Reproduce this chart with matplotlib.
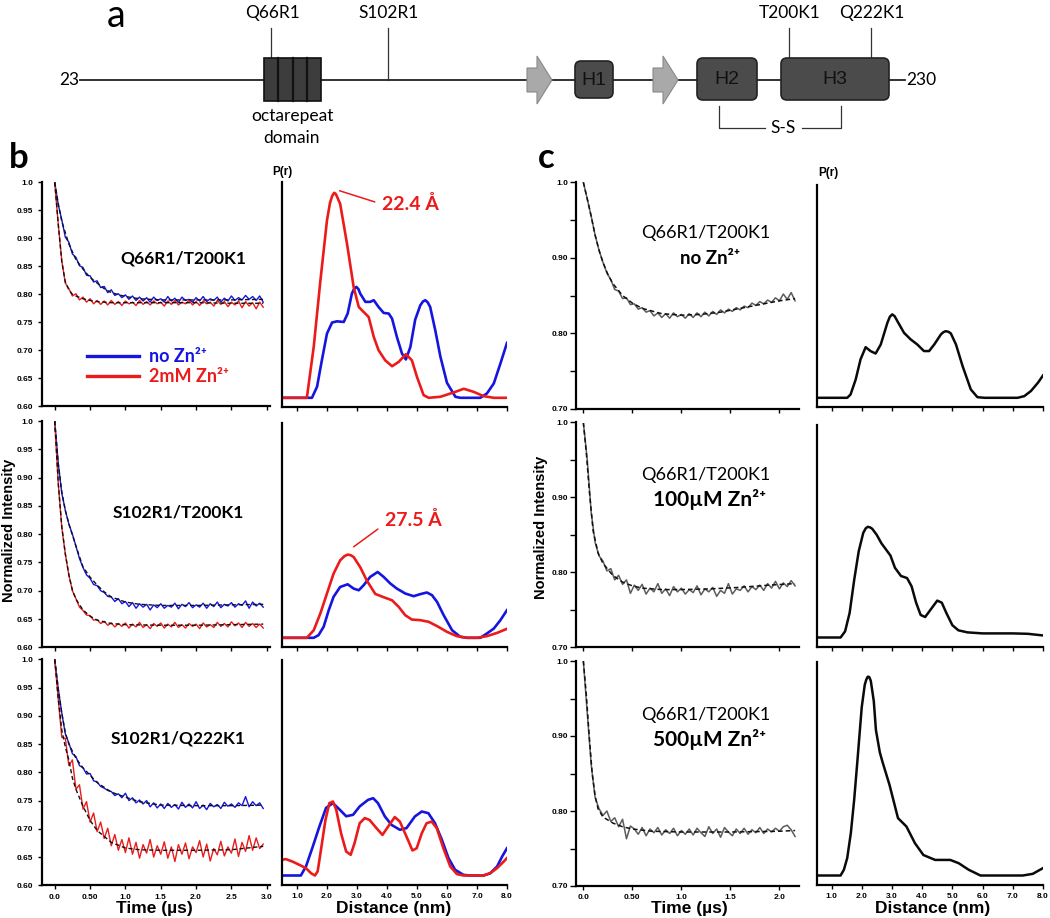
import numpy as np
import matplotlib
matplotlib.use("Agg")
import matplotlib.pyplot as plt
from matplotlib.patches import FancyBboxPatch, Rectangle, Polygon
from matplotlib.lines import Line2D

# ----------------------------------------------------------------- data
# panel b : DEER time traces (time in microseconds)
t_b = np.round(np.arange(0, 2.951, 0.05), 2)
b1_noZn = [1.000,0.960,0.933,0.902,0.893,0.872,0.866,0.851,0.848,0.834,
           0.833,0.822,0.824,0.812,0.814,0.803,0.808,0.798,0.801,0.794,
           0.799,0.791,0.797,0.789,0.795,0.788,0.794,0.786,0.795,0.789,
           0.792,0.786,0.796,0.788,0.793,0.785,0.795,0.789,0.791,0.786,
           0.794,0.788,0.796,0.787,0.792,0.789,0.795,0.786,0.793,0.788,
           0.797,0.789,0.794,0.790,0.798,0.791,0.796,0.789,0.797,0.786]
b1_Zn = [1.000,0.925,0.860,0.820,0.810,0.797,0.801,0.790,0.795,0.786,
         0.792,0.783,0.789,0.782,0.788,0.781,0.789,0.782,0.787,0.780,
         0.788,0.783,0.786,0.780,0.789,0.782,0.787,0.781,0.788,0.783,
         0.786,0.779,0.788,0.782,0.789,0.781,0.786,0.783,0.789,0.781,
         0.787,0.780,0.788,0.783,0.786,0.779,0.789,0.782,0.787,0.778,
         0.786,0.781,0.788,0.776,0.787,0.779,0.785,0.774,0.786,0.777]
b2_noZn = [1.000,0.925,0.872,0.842,0.818,0.800,0.779,0.757,0.741,0.728,
           0.722,0.711,0.709,0.700,0.697,0.690,0.689,0.681,0.686,0.677,
           0.681,0.672,0.679,0.669,0.677,0.671,0.676,0.666,0.675,0.670,
           0.677,0.669,0.674,0.671,0.678,0.668,0.676,0.672,0.679,0.670,
           0.675,0.671,0.678,0.669,0.677,0.672,0.680,0.670,0.676,0.673,
           0.679,0.671,0.677,0.674,0.682,0.669,0.680,0.673,0.678,0.671]
b2_Zn = [1.000,0.890,0.812,0.765,0.728,0.700,0.686,0.671,0.665,0.657,
         0.656,0.648,0.649,0.642,0.646,0.639,0.643,0.636,0.642,0.637,
         0.643,0.634,0.641,0.636,0.644,0.635,0.640,0.633,0.642,0.637,
         0.643,0.634,0.641,0.636,0.644,0.635,0.640,0.634,0.642,0.637,
         0.641,0.633,0.643,0.636,0.640,0.635,0.644,0.637,0.642,0.636,
         0.645,0.638,0.643,0.635,0.644,0.637,0.642,0.635,0.641,0.634]
b3_noZn = [1.000,0.948,0.905,0.868,0.852,0.833,0.828,0.812,0.808,0.797,
           0.798,0.785,0.783,0.775,0.772,0.768,0.766,0.759,0.762,0.755,
           0.763,0.750,0.755,0.746,0.751,0.744,0.750,0.739,0.746,0.737,
           0.744,0.736,0.745,0.738,0.743,0.735,0.747,0.738,0.744,0.737,
           0.748,0.736,0.742,0.734,0.745,0.739,0.743,0.736,0.747,0.740,
           0.744,0.738,0.746,0.741,0.757,0.739,0.748,0.741,0.746,0.736]
b3_Zn = [1.000,0.930,0.862,0.860,0.812,0.822,0.770,0.778,0.735,0.748,
         0.712,0.728,0.695,0.712,0.683,0.701,0.670,0.690,0.662,0.681,
         0.658,0.684,0.655,0.676,0.648,0.672,0.657,0.681,0.650,0.670,
         0.655,0.677,0.648,0.668,0.642,0.672,0.655,0.675,0.647,0.668,
         0.658,0.679,0.650,0.673,0.643,0.665,0.654,0.678,0.652,0.668,
         0.657,0.682,0.651,0.676,0.660,0.688,0.662,0.684,0.665,0.673]

# fits (black dashed)
fb1_noZn_t = [0,0.05,0.1,0.2,0.3,0.4,0.5,0.6,0.7,0.8,1.0,1.2,1.5,2.0,2.5,2.95]
fb1_noZn_v = [1.0,0.962,0.93,0.89,0.862,0.845,0.83,0.82,0.81,0.803,0.796,0.792,0.79,0.79,0.79,0.791]
fb1_Zn_t = [0,0.05,0.1,0.15,0.2,0.25,0.3,0.4,0.5,0.6,0.8,1.0,1.5,2.0,2.5,2.95]
fb1_Zn_v = [1.0,0.925,0.858,0.822,0.808,0.8,0.797,0.792,0.789,0.787,0.785,0.785,0.785,0.785,0.784,0.784]
fb2_noZn_t = [0,0.05,0.1,0.15,0.2,0.3,0.4,0.5,0.6,0.7,0.8,1.0,1.2,1.5,2.0,2.5,2.95]
fb2_noZn_v = [1.0,0.925,0.875,0.842,0.818,0.779,0.742,0.724,0.71,0.698,0.689,0.68,0.676,0.674,0.674,0.675,0.676]
fb2_Zn_t = [0,0.05,0.1,0.15,0.2,0.25,0.3,0.4,0.5,0.6,0.8,1.0,1.5,2.0,2.5,2.95]
fb2_Zn_v = [1.0,0.89,0.813,0.765,0.728,0.701,0.685,0.666,0.655,0.648,0.642,0.64,0.639,0.639,0.64,0.641]
fb3_noZn_t = [0,0.05,0.1,0.15,0.2,0.3,0.4,0.5,0.6,0.8,1.0,1.2,1.5,2.0,2.5,2.95]
fb3_noZn_v = [1.0,0.948,0.905,0.87,0.85,0.825,0.808,0.795,0.782,0.765,0.756,0.748,0.742,0.741,0.741,0.742]
fb3_Zn_t = [0,0.05,0.1,0.15,0.2,0.25,0.3,0.4,0.5,0.6,0.8,1.0,1.2,1.5,2.0,2.5,2.95]
fb3_Zn_v = [1.0,0.93,0.875,0.845,0.822,0.79,0.77,0.74,0.715,0.697,0.676,0.666,0.663,0.662,0.662,0.663,0.669]

# panel b : distance distributions P(r), r in nm (arbitrary height units)
rb1_noZn = [0.47,1.5,1.67,1.83,2.0,2.17,2.33,2.56,2.69,2.83,2.9,2.98,3.05,3.11,3.28,3.44,3.56,3.72,3.89,4.06,4.17,4.33,
            4.5,4.63,4.78,4.94,5.11,5.2,5.28,5.36,5.44,5.61,5.78,6.0,6.28,6.44,7.11,7.33,7.56,7.78,8.0]
pb1_noZn = [0,0,0.054,0.183,0.313,0.367,0.373,0.37,0.411,0.508,0.53,0.541,0.53,0.508,0.468,0.468,0.476,0.443,0.414,0.411,0.386,0.297,
            0.216,0.187,0.248,0.381,0.451,0.47,0.476,0.465,0.443,0.329,0.201,0.073,0.005,0,0,0.021,0.07,0.167,0.268]
rb1_Zn = [0.47,1.33,1.56,1.78,2.0,2.1,2.17,2.24,2.29,2.34,2.44,2.67,2.89,3.06,3.22,3.39,3.56,3.72,3.94,4.17,4.39,4.63,
          4.83,5.0,5.22,5.39,5.78,6.22,6.56,6.89,7.22,7.56,8.0]
pb1_Zn = [0,0,0.25,0.57,0.865,0.95,0.983,1.0,0.995,0.98,0.946,0.75,0.54,0.443,0.419,0.394,0.297,0.232,0.183,0.154,0.175,0.213,
          0.183,0.102,0.013,0,0.005,0.026,0.044,0.029,0.008,0,0]
rb2_noZn = [0.47,1.56,1.72,1.89,2.06,2.22,2.44,2.69,2.89,3.06,3.22,3.44,3.69,3.89,4.11,4.33,4.61,4.89,5.11,5.33,
            5.5,5.67,5.89,6.17,6.44,6.67,7.11,7.33,7.56,7.78,8.0]
pb2_noZn = [0,0,0.013,0.054,0.135,0.2,0.248,0.261,0.24,0.232,0.256,0.297,0.321,0.297,0.265,0.24,0.216,0.203,0.213,0.221,
            0.208,0.175,0.11,0.037,0.005,0,0,0.021,0.045,0.086,0.135]
rb2_Zn = [0.47,1.33,1.56,1.78,2.0,2.22,2.44,2.58,2.69,2.79,2.89,3.11,3.33,3.61,3.89,4.17,4.39,4.61,4.83,5.11,5.39,5.67,
          6.0,6.33,6.67,7.0,7.33,7.67,8.0]
pb2_Zn = [0,0,0.037,0.119,0.216,0.313,0.378,0.398,0.406,0.403,0.394,0.344,0.279,0.214,0.198,0.183,0.151,0.11,0.089,0.086,0.078,0.057,
          0.029,0.008,0,0,0.008,0.024,0.044]
rb3_noZn = [0.46,1.13,1.3,1.53,1.75,1.97,2.2,2.42,2.64,2.87,3.09,3.37,3.54,3.7,3.93,4.15,4.43,4.65,4.93,5.16,
            5.38,5.6,5.83,6.05,6.27,6.55,6.78,7.22,7.44,7.67,7.84,8.0]
pb3_noZn = [0,0,0.044,0.142,0.24,0.33,0.353,0.322,0.289,0.296,0.337,0.369,0.377,0.353,0.288,0.247,0.223,0.231,0.288,0.312,
            0.304,0.255,0.174,0.085,0.028,0.003,0,0,0.011,0.044,0.093,0.133]
rb3_Zn = [0.46,0.63,0.85,1.08,1.3,1.47,1.6,1.69,1.8,1.95,2.08,2.2,2.31,2.47,2.64,2.79,2.92,3.09,3.26,3.42,
          3.65,3.85,4.04,4.26,4.43,4.65,4.85,4.99,5.16,5.32,5.49,5.66,5.88,6.11,6.33,6.55,7.22,7.44,7.67,7.89,8.0]
pb3_Zn = [0.076,0.08,0.068,0.052,0.036,0.011,0,0.02,0.125,0.271,0.353,0.361,0.32,0.206,0.117,0.101,0.158,0.255,0.28,0.271,
          0.231,0.198,0.239,0.285,0.263,0.19,0.122,0.133,0.206,0.255,0.263,0.231,0.133,0.044,0.007,0,0,0.011,0.036,0.068,0.085]

# panel c : Zn titration time traces
t_c = np.round(np.arange(0, 2.161, 0.04), 2)
c1_data = [1.000,0.978,0.955,0.930,0.910,0.894,0.880,0.871,0.858,0.856,
           0.846,0.847,0.838,0.839,0.832,0.834,0.828,0.830,0.823,0.827,
           0.821,0.826,0.820,0.827,0.822,0.825,0.820,0.826,0.821,0.827,
           0.822,0.828,0.823,0.829,0.825,0.831,0.827,0.832,0.829,0.834,
           0.831,0.836,0.834,0.840,0.837,0.842,0.839,0.844,0.841,0.847,
           0.843,0.852,0.845,0.854,0.843]
c2_data = [1.000,0.950,0.880,0.840,0.822,0.815,0.802,0.805,0.790,0.796,
           0.784,0.790,0.772,0.783,0.776,0.784,0.771,0.779,0.774,0.785,
           0.772,0.778,0.769,0.781,0.774,0.779,0.771,0.777,0.773,0.782,
           0.770,0.778,0.774,0.780,0.768,0.776,0.772,0.785,0.771,0.778,
           0.776,0.782,0.774,0.781,0.777,0.783,0.776,0.785,0.779,0.788,
           0.778,0.786,0.781,0.789,0.782]
c3_data = [1.000,0.930,0.862,0.818,0.803,0.794,0.800,0.786,0.791,0.779,
           0.789,0.763,0.780,0.776,0.769,0.778,0.767,0.776,0.771,0.778,
           0.768,0.775,0.770,0.777,0.767,0.774,0.769,0.776,0.768,0.777,
           0.771,0.766,0.779,0.770,0.776,0.765,0.778,0.772,0.767,0.776,
           0.770,0.777,0.769,0.775,0.771,0.778,0.770,0.776,0.772,0.777,
           0.773,0.779,0.781,0.775,0.766]
fc1_t = [0,0.04,0.08,0.12,0.16,0.2,0.25,0.3,0.4,0.5,0.6,0.8,1.0,1.2,1.4,1.6,1.8,2.0,2.16]
fc1_v = [1.0,0.978,0.955,0.93,0.91,0.894,0.878,0.866,0.85,0.84,0.833,0.826,0.824,0.825,0.828,0.833,0.838,0.843,0.846]
fc2_t = [0,0.03,0.06,0.1,0.15,0.2,0.3,0.4,0.5,0.6,0.8,1.0,1.3,1.6,1.9,2.16]
fc2_v = [1.0,0.96,0.91,0.855,0.826,0.812,0.796,0.787,0.782,0.779,0.777,0.777,0.778,0.78,0.783,0.785]
fc3_t = [0,0.03,0.06,0.09,0.12,0.15,0.2,0.3,0.4,0.5,0.7,1.0,1.5,2.0,2.16]
fc3_v = [1.0,0.955,0.9,0.85,0.82,0.803,0.792,0.784,0.779,0.776,0.773,0.772,0.772,0.773,0.774]

rc1 = [0.5,1.52,1.63,1.8,1.96,2.13,2.29,2.46,2.63,2.85,2.93,3.01,3.09,3.18,3.4,3.62,3.84,4.06,4.23,4.4,4.62,4.7,4.78,4.87,
       4.95,5.12,5.34,5.61,5.83,6.06,7.16,7.38,7.6,7.83,8.0]
pc1 = [0,0,0.016,0.089,0.187,0.247,0.228,0.216,0.26,0.366,0.395,0.407,0.398,0.374,0.317,0.285,0.26,0.228,0.228,0.26,0.309,0.32,0.325,0.322,
       0.314,0.26,0.154,0.041,0.003,0,0,0.008,0.033,0.073,0.109]
rc2 = [0.5,1.3,1.45,1.6,1.75,1.9,2.05,2.13,2.2,2.28,2.35,2.5,2.65,2.8,2.95,3.1,3.3,3.5,3.65,3.8,3.95,4.1,
       4.3,4.5,4.65,4.8,5.0,5.2,5.5,6.0,7.0,7.5,8.0]
pc2 = [0,0,0.03,0.12,0.28,0.42,0.51,0.532,0.54,0.537,0.53,0.5,0.46,0.43,0.4,0.34,0.3,0.29,0.25,0.17,0.11,0.1,
       0.14,0.18,0.17,0.12,0.06,0.035,0.025,0.02,0.02,0.018,0.01]
rc3 = [0.5,1.3,1.41,1.52,1.64,1.75,1.86,2.0,2.1,2.15,2.2,2.25,2.3,2.4,2.47,2.6,2.7,2.92,3.2,3.48,3.76,4.04,
       4.43,4.93,5.21,5.54,5.93,7.33,7.66,8.0]
pc3 = [0,0,0.028,0.085,0.207,0.369,0.564,0.82,0.93,0.955,0.97,0.968,0.95,0.85,0.71,0.6,0.548,0.442,0.28,0.239,0.158,0.1,
       0.076,0.076,0.06,0.028,0,0,0.008,0.036]

b_labels = ["Q66R1/T200K1", "S102R1/T200K1", "S102R1/Q222K1"]
c_conc = ["no Zn²⁺", "100µM Zn²⁺", "500µM Zn²⁺"]
series_names = ["no Zn²⁺", "2mM Zn²⁺"]
peak_notes = ["22.4 Å", "27.5 Å"]

# ----------------------------------------------------------------- style
W, H = 1050, 918
BLUE = "#1515e0"
RED = "#ec1b1b"
GREY = "#5c5c5c"
ARIAL = "Liberation Sans"
CAL = ["Lato", "DejaVu Sans"]

fig = plt.figure(figsize=(W / 100, H / 100), dpi=100)


def add_ax(l, t, r, b):
    return fig.add_axes([l / W, 1 - b / H, (r - l) / W, (b - t) / H])


def ftext(x, y, s, **kw):
    kw.setdefault("ha", "center")
    kw.setdefault("va", "center")
    return fig.text(x / W, 1 - y / H, s, **kw)


def base_style(ax, ylen=3, ypad=3.5):
    for s in ["top", "right"]:
        ax.spines[s].set_visible(False)
    for s in ["left", "bottom"]:
        ax.spines[s].set_linewidth(1.6)
    ax.tick_params(axis="x", direction="out", length=3, width=1, pad=3)
    ax.tick_params(axis="y", which="both", direction="out", length=ylen, width=1, pad=ypad)
    ax.patch.set_alpha(0)


def set_ticks(ax, axis, vals, labels, show):
    if axis == "x":
        ax.set_xticks(vals)
        ax.set_xticklabels(labels if show else [])
        lbls = ax.get_xticklabels()
    else:
        ax.set_yticks(vals)
        ax.set_yticklabels(labels if show else [])
        lbls = ax.get_yticklabels()
    for t in lbls:
        t.set_fontfamily(ARIAL)
        t.set_fontweight("bold")
        t.set_fontsize(6)


# ------------------------------------------------------ panel a (schematic)
axa = fig.add_axes([0, 1 - 150 / H, 1, 150 / H])
axa.set_xlim(0, W)
axa.set_ylim(150, 0)
axa.axis("off")
axa.plot([80, 905], [80, 80], color="#222222", lw=1.3, zorder=1)
axa.add_patch(Rectangle((264, 58), 57, 43, fc="#3d3d3d", ec="#111111", lw=1.2, zorder=3))
for xv in [278.25, 292.5, 306.75]:
    axa.plot([xv, xv], [58, 101], color="#111111", lw=1.6, zorder=4)
for x0 in [527, 653]:
    axa.add_patch(Polygon([(x0, 68), (x0 + 10, 68), (x0 + 10, 56), (x0 + 25, 80),
                           (x0 + 10, 104), (x0 + 10, 92), (x0, 92)],
                          closed=True, fc="#a9a9a9", ec="#8a8a8a", lw=0.8, zorder=3))
for (x0, x1, y0, y1, name) in [(575, 613, 61, 98, "H1"), (697, 757, 58, 100, "H2"),
                               (781, 889, 58, 100, "H3")]:
    axa.add_patch(FancyBboxPatch((x0, y0), x1 - x0, y1 - y0,
                                 boxstyle="round,pad=0,rounding_size=6",
                                 fc="#4b4b4b", ec="#222222", lw=1.2, zorder=3))
    axa.text((x0 + x1) / 2, (y0 + y1) / 2 + 1, name, ha="center", va="center",
             fontsize=14, family=ARIAL, color="#111111", zorder=5)
for (xl, yend, name) in [(271, 58, "Q66R1"), (388, 80, "S102R1"),
                         (789, 58, "T200K1"), (871, 58, "Q222K1")]:
    axa.plot([xl, xl], [28, yend], color="#333333", lw=0.9, zorder=2)
    axa.text(xl + 1, 13, name, ha="center", va="center", fontsize=12.5, family=CAL)
axa.plot([719, 719, 765], [106, 128, 128], color="#333333", lw=0.9)
axa.plot([802, 841, 841], [128, 128, 106], color="#333333", lw=0.9)
axa.text(783, 128, "S-S", ha="center", va="center", fontsize=12.5, family=CAL)
axa.text(292, 116, "octarepeat", ha="center", va="center", fontsize=12.5, family=CAL)
axa.text(292, 138, "domain", ha="center", va="center", fontsize=12.5, family=CAL)
axa.text(79, 80, "23", ha="right", va="center", fontsize=12.5, family=CAL)
axa.text(906, 80, "230", ha="left", va="center", fontsize=12.5, family=CAL)
axa.text(116, 16, "a", ha="center", va="center", fontsize=27, family=CAL)

# ----------------------------------------------------------------- panel b
bL_pos = [(42, 182.3, 270.3, 406.3), (42, 421, 270.3, 647.3), (42, 659.4, 270.3, 885.3)]
bR_pos = [(281.5, 181.7, 507, 407.3), (281.5, 422.7, 507, 647.3), (281.5, 660, 507, 885)]
cL_pos = [(576, 182.3, 799, 408.8), (576, 422.5, 799, 647.3), (576, 661, 799, 886)]
cR_pos = [(817, 185, 1043, 407.3), (817, 425, 1043, 647), (817, 662, 1043, 885)]
PX_PER_UNIT = 205.0
BASE_OFF = 9.5

b_traces = [(b1_noZn, b1_Zn, fb1_noZn_t, fb1_noZn_v, fb1_Zn_t, fb1_Zn_v),
            (b2_noZn, b2_Zn, fb2_noZn_t, fb2_noZn_v, fb2_Zn_t, fb2_Zn_v),
            (b3_noZn, b3_Zn, fb3_noZn_t, fb3_noZn_v, fb3_Zn_t, fb3_Zn_v)]
b_dists = [(rb1_noZn, pb1_noZn, rb1_Zn, pb1_Zn),
           (rb2_noZn, pb2_noZn, rb2_Zn, pb2_Zn),
           (rb3_noZn, pb3_noZn, rb3_Zn, pb3_Zn)]

yt_b = [0.60, 0.65, 0.70, 0.75, 0.80, 0.85, 0.90, 0.95, 1.0]
yl_b = ["0.60", "0.65", "0.70", "0.75", "0.80", "0.85", "0.90", "0.95", "1.0"]
xt_b = [0, 0.5, 1.0, 1.5, 2.0, 2.5, 3.0]
xl_b = ["0.0", "0.50", "1.0", "1.5", "2.0", "2.5", "3.0"]
xt_r = [1, 2, 3, 4, 5, 6, 7, 8]
xl_r = ["1.0", "2.0", "3.0", "4.0", "5.0", "6.0", "7.0", "8.0"]

for i in range(3):
    nz, zn, fnt, fnv, fzt, fzv = b_traces[i]
    ax = add_ax(*bL_pos[i])
    base_style(ax)
    ax.plot(t_b, nz, color=BLUE, lw=1.0, zorder=2)
    ax.plot(t_b, zn, color=RED, lw=1.0, zorder=2)
    ax.plot(fnt, fnv, color="#111111", lw=1.0, ls=(0, (3, 2)), zorder=3)
    ax.plot(fzt, fzv, color="#111111", lw=1.0, ls=(0, (3, 2)), zorder=3)
    ax.set_xlim(-0.18, 3.05)
    ax.set_ylim(0.60, 1.0)
    set_ticks(ax, "y", yt_b, yl_b, True)
    set_ticks(ax, "x", xt_b, xl_b, i == 2)
    if i == 0:
        hs = [Line2D([], [], color=BLUE, lw=2.4), Line2D([], [], color=RED, lw=2.4)]
        leg = ax.legend(hs, series_names, loc="lower left", bbox_to_anchor=(0.197, 0.095),
                        frameon=False, borderpad=0, borderaxespad=0, handlelength=2.9,
                        handletextpad=0.55, labelspacing=0.15,
                        prop=dict(family=CAL, weight="bold", size=13))
        for txt, col in zip(leg.get_texts(), [BLUE, RED]):
            txt.set_color(col)

    rn, pn, rz, pz = b_dists[i]
    axr = add_ax(*bR_pos[i])
    base_style(axr)
    axr.plot(rn, pn, color=BLUE, lw=1.9, solid_joinstyle="round")
    axr.plot(rz, pz, color=RED, lw=1.9, solid_joinstyle="round")
    hpx = bR_pos[i][3] - bR_pos[i][1]
    axr.set_ylim(-BASE_OFF / PX_PER_UNIT, (hpx - BASE_OFF) / PX_PER_UNIT)
    axr.set_xlim(0.485, 8.0)
    axr.set_yticks([])
    set_ticks(axr, "x", xt_r, xl_r, i == 2)
    if i == 0:
        axr.annotate(peak_notes[0], xy=(2.42, 1.01), xytext=(3.82, 0.945),
                     color=RED, fontsize=14, fontweight="bold", family=CAL,
                     ha="left", va="center",
                     arrowprops=dict(arrowstyle="-", color=RED, lw=1.1,
                                     shrinkA=3, shrinkB=0, relpos=(0, 0.5)))
    if i == 1:
        axr.annotate(peak_notes[1], xy=(2.89, 0.444), xytext=(3.94, 0.574),
                     color=RED, fontsize=14, fontweight="bold", family=CAL,
                     ha="left", va="center",
                     arrowprops=dict(arrowstyle="-", color=RED, lw=1.1,
                                     shrinkA=4, shrinkB=0, relpos=(0, 0.3)))

    ftext(183 if i == 0 else 178, [259, 512, 738][i], b_labels[i],
          fontsize=12.5, fontweight="bold", family=CAL)

# ----------------------------------------------------------------- panel c
c_traces = [(c1_data, fc1_t, fc1_v), (c2_data, fc2_t, fc2_v), (c3_data, fc3_t, fc3_v)]
c_dists = [(rc1, pc1), (rc2, pc2), (rc3, pc3)]
xt_c = [0, 0.5, 1.0, 1.5, 2.0]
xl_c = ["0.0", "0.50", "1.0", "1.5", "2.0"]

for i in range(3):
    dat, ft, fv = c_traces[i]
    ax = add_ax(*cL_pos[i])
    base_style(ax, ylen=4, ypad=1.5)
    ax.plot(t_c, dat, color=GREY, lw=1.1, zorder=2)
    ax.plot(ft, fv, color="#111111", lw=1.1, ls=(0, (3, 2)), zorder=3)
    ax.set_xlim(-0.075, 2.2)
    ax.set_ylim(0.70, 1.0)
    set_ticks(ax, "y", [0.70, 0.80, 0.90, 1.0], ["0.70", "0.80", "0.90", "1.0"], True)
    ax.set_yticks([0.75, 0.85, 0.95], minor=True)
    set_ticks(ax, "x", xt_c, xl_c, i == 2)

    rr, pp = c_dists[i]
    axr = add_ax(*cR_pos[i])
    base_style(axr)
    axr.plot(rr, pp, color="#0a0a0a", lw=1.8, solid_joinstyle="round")
    hpx = cR_pos[i][3] - cR_pos[i][1]
    axr.set_ylim(-BASE_OFF / PX_PER_UNIT, (hpx - BASE_OFF) / PX_PER_UNIT)
    axr.set_xlim(0.52, 8.0)
    axr.set_yticks([])
    set_ticks(axr, "x", xt_r, xl_r, i == 2)

    y0 = [233, 475, 715][i]
    ftext(706, y0, "Q66R1/T200K1", fontsize=13, family=CAL)
    ftext(710, y0 + 25, c_conc[i], fontsize=13.5 if i == 0 else 15, fontweight="bold", family=CAL)

# --------------------------------------------------------- shared labels
ftext(282, 172, "P(r)", fontsize=8.5, fontweight="bold", family=ARIAL)
ftext(828, 173, "P(r)", fontsize=8.5, fontweight="bold", family=ARIAL)
ftext(9, 530, "Normalized Intensity", rotation=90, fontsize=10.5, fontweight="bold", family=ARIAL)
ftext(541, 527, "Normalized Intensity", rotation=90, fontsize=10.5, fontweight="bold", family=ARIAL)
ftext(154, 908, "Time (µs)", fontsize=12.5, fontweight="bold", family=ARIAL)
ftext(689, 909, "Time (µs)", fontsize=12.5, fontweight="bold", family=ARIAL)
ftext(394, 908, "Distance (nm)", fontsize=12.5, fontweight="bold", family=ARIAL)
ftext(933, 908, "Distance (nm)", fontsize=12.5, fontweight="bold", family=ARIAL)
ftext(19, 158, "b", fontsize=25, fontweight="bold", family=CAL)
ftext(546, 158, "c", fontsize=25, fontweight="bold", family=CAL)

fig.savefig("out.png", dpi=100)
